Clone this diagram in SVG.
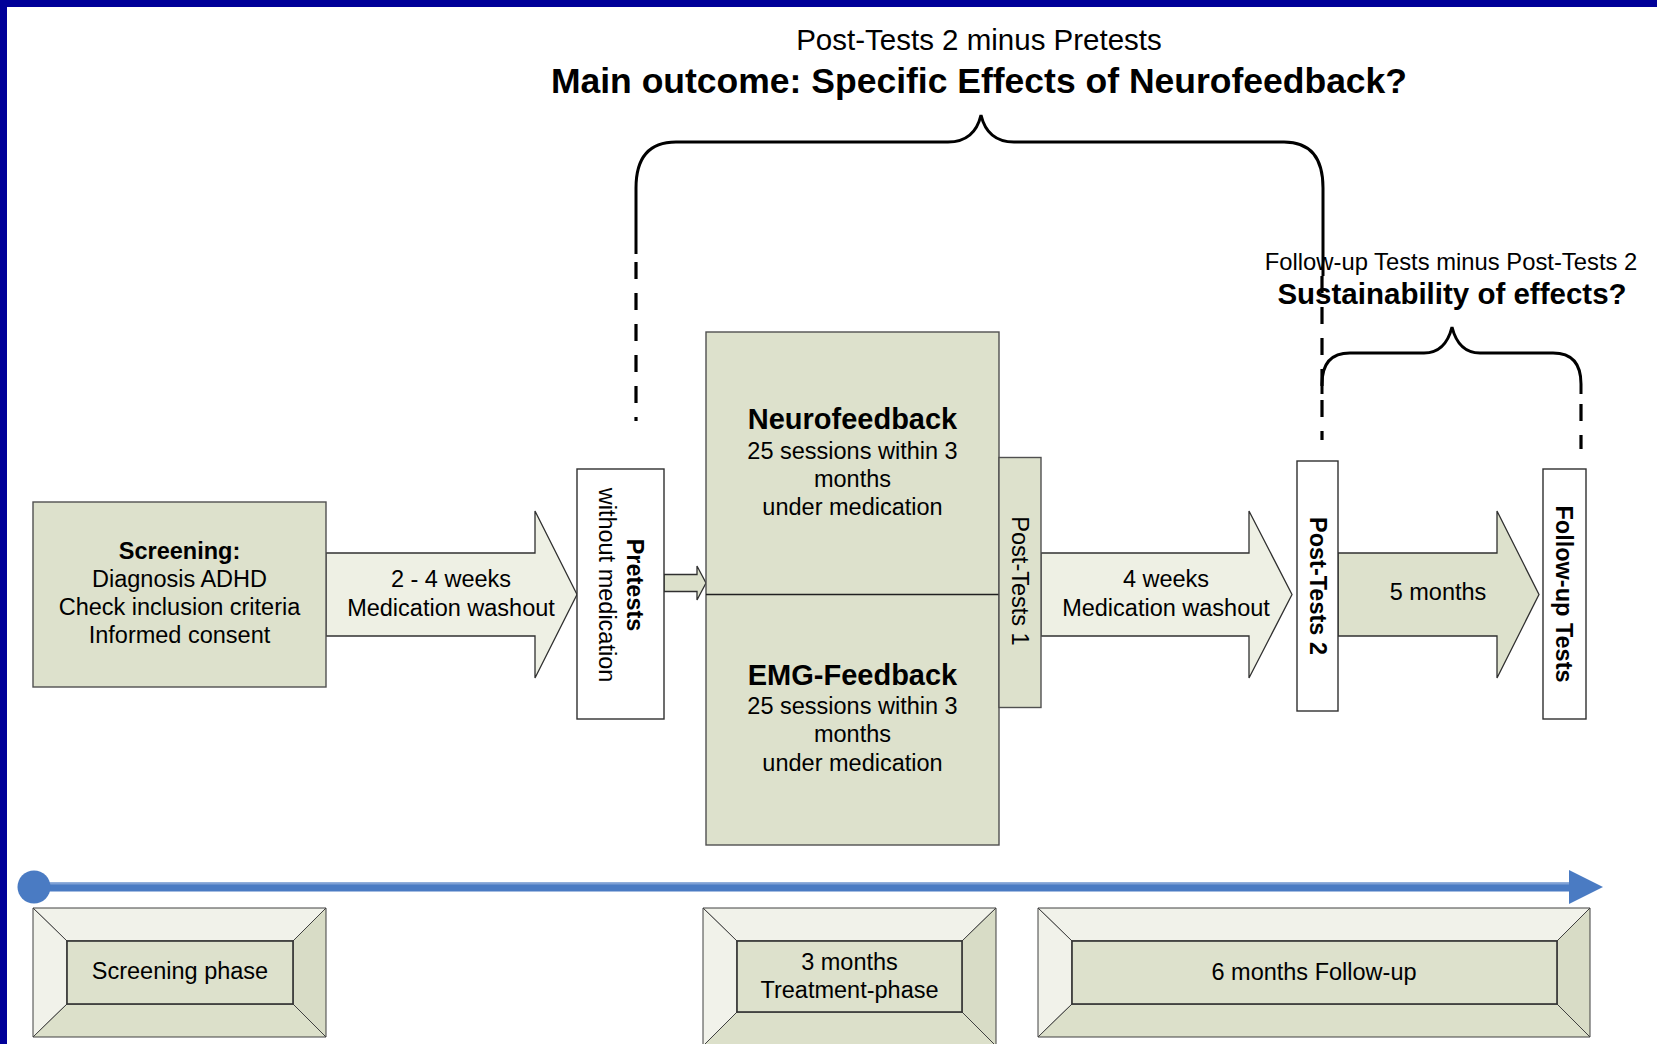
<svg xmlns="http://www.w3.org/2000/svg" width="1657" height="1044" viewBox="0 0 1657 1044">
<style>
.t{font-family:"Liberation Sans",Arial,sans-serif;fill:#000;text-anchor:middle}
.r{font-size:23.5px}
.b{font-weight:bold}
.box{fill:#DDE1CC;stroke:#505050;stroke-width:1.4}
.wbox{fill:#fff;stroke:#303030;stroke-width:1.4}
.arL{fill:#EEF0E4;stroke:#303030;stroke-width:1.3}
.arD{fill:#DDE1CC;stroke:#303030;stroke-width:1.3}
.brace{fill:none;stroke:#000;stroke-width:3}
.dash{fill:none;stroke:#000;stroke-width:3.2;stroke-dasharray:17 14}
.bvL{fill:#F1F2EA;stroke:#404040;stroke-width:1}
.bvR{fill:#D8DCC6;stroke:#404040;stroke-width:1}
.bvB{fill:#DCE0CA;stroke:#404040;stroke-width:1}
.bvI{fill:#DDE1CC;stroke:#303030;stroke-width:1.6}
</style>
<rect x="0" y="0" width="1657" height="1044" fill="#fff"/>
<rect x="0" y="0" width="1657" height="7" fill="#000099"/>
<rect x="0" y="0" width="7" height="1044" fill="#000099"/>

<g id="titles">
<text class="t" x="979" y="50" font-size="29.5">Post-Tests 2 minus Pretests</text>
<text class="t b" x="979" y="93" font-size="35.5">Main outcome: Specific Effects of Neurofeedback?</text>
<text class="t" x="1451" y="270" font-size="23.8">Follow-up Tests minus Post-Tests 2</text>
<text class="t b" x="1452" y="304" font-size="29.5">Sustainability of effects?</text>
</g>

<g id="braces">
<path class="brace" d="M636,254 L636,188 Q636,142 676,142 L948,142 C966,142 977,132 981,115 C985,132 996,142 1014,142 L1284,142 Q1323,142 1323,188 L1323,276"/>
<path class="dash" d="M636,262 L636,421"/>
<path class="dash" d="M1322,276 L1322,440"/>
<path class="brace" d="M1322,394 L1322,384 Q1322,353 1350,353 L1424,353 C1439,353 1448,343 1452,327 C1456,343 1465,353 1480,353 L1553,353 Q1581,353 1581,384 L1581,394"/>
<path class="dash" d="M1581,394 L1581,449" stroke-dashoffset="-10"/>
</g>

<g id="connectors">
<path class="arL" d="M326,553 L535,553 L535,511 L577,594.5 L535,678 L535,636 L326,636 Z"/>
<path class="arD" d="M664,574.5 L697,574.5 L697,566 L706,583 L697,600 L697,591.5 L664,591.5 Z"/>
<path class="arL" d="M1041,553 L1249,553 L1249,511 L1292,594.5 L1249,678 L1249,636 L1041,636 Z"/>
<path class="arD" d="M1338,553 L1497,553 L1497,511 L1539,594.5 L1497,678 L1497,636 L1338,636 Z"/>
</g>
<g id="arrow-labels">
<text class="t r" x="451" y="587">2 - 4 weeks</text>
<text class="t r" x="451" y="616">Medication washout</text>
<text class="t r" x="1166" y="587">4 weeks</text>
<text class="t r" x="1166" y="616">Medication washout</text>
<text class="t r" x="1438" y="600">5 months</text>
</g>

<g id="screening">
<rect class="box" x="33" y="502" width="293" height="185"/>
<text class="t r b" x="179.5" y="559">Screening:</text>
<text class="t r" x="179.5" y="587">Diagnosis ADHD</text>
<text class="t r" x="179.5" y="615">Check inclusion criteria</text>
<text class="t r" x="179.5" y="643">Informed consent</text>
</g>

<g id="pretests">
<rect class="wbox" x="577" y="469" width="87" height="250"/>
<text class="t r" transform="translate(627,585) rotate(90)"><tspan class="b" x="0" y="0">Pretests</tspan><tspan x="0" y="28">without medication</tspan></text>
</g>

<g id="treatment">
<rect class="box" x="706" y="332" width="293" height="513"/>
<line x1="706" y1="594.5" x2="999" y2="594.5" stroke="#202020" stroke-width="1.4"/>
<text class="t b" x="852.5" y="429" font-size="29">Neurofeedback</text>
<text class="t r" x="852.5" y="459">25 sessions within 3</text>
<text class="t r" x="852.5" y="487">months</text>
<text class="t r" x="852.5" y="515">under medication</text>
<text class="t b" x="852.5" y="685" font-size="29">EMG-Feedback</text>
<text class="t r" x="852.5" y="714">25 sessions within 3</text>
<text class="t r" x="852.5" y="742">months</text>
<text class="t r" x="852.5" y="771">under medication</text>
</g>

<g id="posttests1">
<rect class="box" x="999" y="457.5" width="42" height="250"/>
<text class="t r" transform="translate(1012,581) rotate(90)">Post-Tests 1</text>
</g>

<g id="posttests2">
<rect class="wbox" x="1297" y="461" width="41" height="250"/>
<text class="t r b" transform="translate(1310,586) rotate(90)">Post-Tests 2</text>
</g>

<g id="followup">
<rect class="wbox" x="1543" y="469" width="43" height="250"/>
<text class="t r b" transform="translate(1556,594) rotate(90)">Follow-up Tests</text>
</g>

<g id="timeline">
<rect x="33" y="882.5" width="1538" height="9" fill="#4A7BC3"/>
<rect x="33" y="882.5" width="1538" height="2" fill="#7FA1D6"/>
<circle cx="34" cy="887" r="16.5" fill="#4A7BC3"/>
<path d="M1569,870 L1603,887 L1569,904 Z" fill="#4A7BC3"/>
</g>

<g id="phase-screening">
<path class="bvL" d="M33,908 L326,908 L293,941 L67,941 Z"/>
<path class="bvL" d="M33,908 L67,941 L67,1004 L33,1037 Z"/>
<path class="bvR" d="M326,908 L326,1037 L293,1004 L293,941 Z"/>
<path class="bvB" d="M33,1037 L67,1004 L293,1004 L326,1037 Z"/>
<rect class="bvI" x="67" y="941" width="226" height="63"/>
<text class="t r" x="180" y="979">Screening phase</text>
</g>

<g id="phase-treatment">
<path class="bvL" d="M703,908 L996,908 L962,941 L737,941 Z"/>
<path class="bvL" d="M703,908 L737,941 L737,1012 L703,1046 Z"/>
<path class="bvR" d="M996,908 L996,1046 L962,1012 L962,941 Z"/>
<path class="bvB" d="M703,1046 L737,1012 L962,1012 L996,1046 Z"/>
<rect class="bvI" x="737" y="941" width="225" height="71"/>
<text class="t r" x="849.5" y="970">3 months</text>
<text class="t r" x="849.5" y="998">Treatment-phase</text>
</g>

<g id="phase-followup">
<path class="bvL" d="M1038,908 L1590,908 L1557,941 L1072,941 Z"/>
<path class="bvL" d="M1038,908 L1072,941 L1072,1004 L1038,1037 Z"/>
<path class="bvR" d="M1590,908 L1590,1037 L1557,1004 L1557,941 Z"/>
<path class="bvB" d="M1038,1037 L1072,1004 L1557,1004 L1590,1037 Z"/>
<rect class="bvI" x="1072" y="941" width="485" height="63"/>
<text class="t r" x="1314" y="980">6 months Follow-up</text>
</g>
</svg>
